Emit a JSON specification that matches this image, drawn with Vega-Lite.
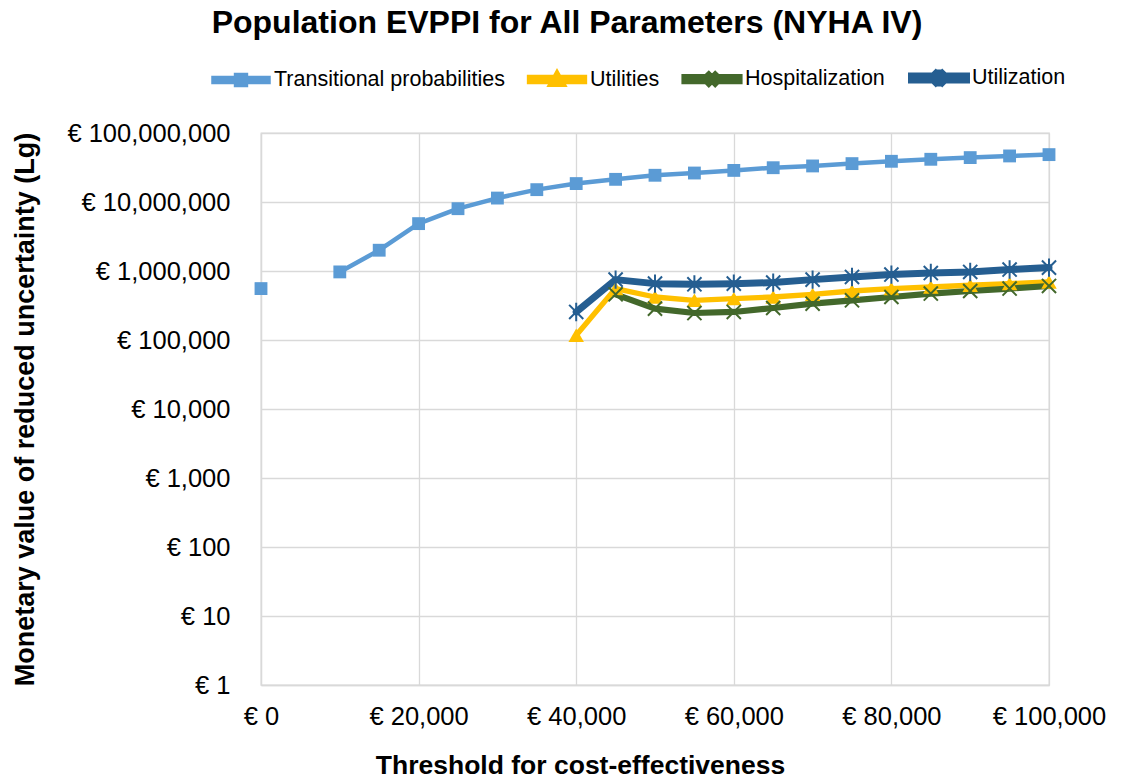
{
  "$schema": "https://vega.github.io/schema/vega-lite/v6.json",
  "autosize": {"type": "none"},
  "width": 788,
  "height": 552,
  "padding": {"left": 261, "top": 133, "right": 73, "bottom": 94},
  "background": "white",
  "title": {
    "text": "Population EVPPI for All Parameters (NYHA IV)",
    "font": "Liberation Sans",
    "fontSize": 32,
    "fontWeight": "bold",
    "color": "#000000",
    "anchor": "middle",
    "dx": -88,
    "offset": 7
  },
  "config": {
    "view": {"stroke": "#d9d9d9", "strokeWidth": 1.3},
    "axis": {
      "gridColor": "#d9d9d9",
      "gridWidth": 1.3,
      "domainColor": "#d9d9d9",
      "domainWidth": 1.3,
      "ticks": false,
      "labelFont": "Liberation Sans",
      "labelColor": "#000000",
      "titleFont": "Liberation Sans",
      "titleColor": "#000000",
      "titleFontWeight": "bold"
    }
  },
  "data": {
    "values": [
      {"x": 0, "s": "Transitional probabilities", "v": 556000},
      {"x": 5000, "s": "Transitional probabilities", "v": null},
      {"x": 10000, "s": "Transitional probabilities", "v": 970000},
      {"x": 15000, "s": "Transitional probabilities", "v": 2000000},
      {"x": 20000, "s": "Transitional probabilities", "v": 4860000},
      {"x": 25000, "s": "Transitional probabilities", "v": 8000000},
      {"x": 30000, "s": "Transitional probabilities", "v": 11400000},
      {"x": 35000, "s": "Transitional probabilities", "v": 15100000},
      {"x": 40000, "s": "Transitional probabilities", "v": 18500000},
      {"x": 45000, "s": "Transitional probabilities", "v": 21300000},
      {"x": 50000, "s": "Transitional probabilities", "v": 24400000},
      {"x": 55000, "s": "Transitional probabilities", "v": 26300000},
      {"x": 60000, "s": "Transitional probabilities", "v": 28700000},
      {"x": 65000, "s": "Transitional probabilities", "v": 31400000},
      {"x": 70000, "s": "Transitional probabilities", "v": 33300000},
      {"x": 75000, "s": "Transitional probabilities", "v": 36000000},
      {"x": 80000, "s": "Transitional probabilities", "v": 38900000},
      {"x": 85000, "s": "Transitional probabilities", "v": 41600000},
      {"x": 90000, "s": "Transitional probabilities", "v": 44000000},
      {"x": 95000, "s": "Transitional probabilities", "v": 46500000},
      {"x": 100000, "s": "Transitional probabilities", "v": 48600000},
      {"x": 40000, "s": "Utilities", "v": 117000},
      {"x": 45000, "s": "Utilities", "v": 556000},
      {"x": 50000, "s": "Utilities", "v": 420000},
      {"x": 55000, "s": "Utilities", "v": 376000},
      {"x": 60000, "s": "Utilities", "v": 398000},
      {"x": 65000, "s": "Utilities", "v": 420000},
      {"x": 70000, "s": "Utilities", "v": 459000},
      {"x": 75000, "s": "Utilities", "v": 513000},
      {"x": 80000, "s": "Utilities", "v": 556000},
      {"x": 85000, "s": "Utilities", "v": 586000},
      {"x": 90000, "s": "Utilities", "v": 621000},
      {"x": 95000, "s": "Utilities", "v": 656000},
      {"x": 100000, "s": "Utilities", "v": 694000},
      {"x": 45000, "s": "Hospitalization", "v": 459000},
      {"x": 50000, "s": "Hospitalization", "v": 285000},
      {"x": 55000, "s": "Hospitalization", "v": 246000},
      {"x": 60000, "s": "Hospitalization", "v": 255000},
      {"x": 65000, "s": "Hospitalization", "v": 291000},
      {"x": 70000, "s": "Hospitalization", "v": 336000},
      {"x": 75000, "s": "Hospitalization", "v": 376000},
      {"x": 80000, "s": "Hospitalization", "v": 420000},
      {"x": 85000, "s": "Hospitalization", "v": 471000},
      {"x": 90000, "s": "Hospitalization", "v": 513000},
      {"x": 95000, "s": "Hospitalization", "v": 556000},
      {"x": 100000, "s": "Hospitalization", "v": 607000},
      {"x": 40000, "s": "Utilization", "v": 255000},
      {"x": 45000, "s": "Utilization", "v": 750000},
      {"x": 50000, "s": "Utilization", "v": 656000},
      {"x": 55000, "s": "Utilization", "v": 641000},
      {"x": 60000, "s": "Utilization", "v": 656000},
      {"x": 65000, "s": "Utilization", "v": 679000},
      {"x": 70000, "s": "Utilization", "v": 750000},
      {"x": 75000, "s": "Utilization", "v": 819000},
      {"x": 80000, "s": "Utilization", "v": 887000},
      {"x": 85000, "s": "Utilization", "v": 935000},
      {"x": 90000, "s": "Utilization", "v": 968000},
      {"x": 95000, "s": "Utilization", "v": 1050000},
      {"x": 100000, "s": "Utilization", "v": 1120000}
    ]
  },
  "encoding": {
    "x": {
      "field": "x",
      "type": "quantitative",
      "scale": {"domain": [0, 100000], "nice": false, "zero": false},
      "axis": {
        "values": [0, 20000, 40000, 60000, 80000, 100000],
        "labelExpr": "'€ ' + format(datum.value, ',')",
        "labelFontSize": 25.5,
        "labelPadding": 19,
        "labelFlush": false,
        "labelOverlap": false,
        "title": "Threshold for cost-effectiveness",
        "titleFontSize": 26.5,
        "titlePadding": 23,
        "titleX": 319,
        "titleAnchor": "middle",
        "titleAlign": "center"
      }
    },
    "y": {
      "field": "v",
      "type": "quantitative",
      "scale": {"type": "log", "domain": [1, 100000000], "nice": false},
      "axis": {
        "values": [1, 10, 100, 1000, 10000, 100000, 1000000, 10000000, 100000000],
        "labelExpr": "'€ ' + format(datum.value, ',')",
        "labelFontSize": 25.5,
        "labelPadding": 31,
        "labelOverlap": false,
        "labelFlush": false,
        "title": "Monetary value of reduced uncertainty (Lg)",
        "titleFontSize": 27,
        "titlePadding": 27
      }
    },
    "color": {
      "field": "s",
      "type": "nominal",
      "scale": {
        "domain": ["Transitional probabilities", "Utilities", "Hospitalization", "Utilization"],
        "range": ["#5B9BD5", "#FFC000", "#43682B", "#255E91"]
      },
      "legend": {
        "title": null,
        "orient": "none",
        "direction": "horizontal",
        "columns": 4,
        "legendX": -51,
        "legendY": -86,
        "padding": 0,
        "labelFont": "Liberation Sans",
        "labelFontSize": 21.5,
        "labelColor": "#000000",
        "labelLimit": 500,
        "labelOffset": 2,
        "columnPadding": 12,
        "symbolSize": 3025,
        "symbolOpacity": 1,
        "symbolStrokeWidth": 0
      }
    }
  },
  "layer": [
    {
      "mark": {"type": "point", "filled": true, "opacity": 0, "size": 1, "invalid": "filter"},
      "encoding": {
        "shape": {
          "field": "s",
          "type": "nominal",
          "scale": {
            "domain": ["Transitional probabilities", "Utilities", "Hospitalization", "Utilization"],
            "range": [
              "M-1,-0.075V0.075H1V-0.075Z M-0.18,-0.18V0.18H0.18V-0.18Z",
              "M-1,-0.075V0.075H1V-0.075Z M0,-0.22L-0.22,0.17H0.22Z",
              "M-1,-0.075V0.075H1V-0.075Z M0.116,0.166L0.166,0.116L-0.116,-0.166L-0.166,-0.116Z M0.166,-0.116L0.116,-0.166L-0.166,0.116L-0.116,0.166Z",
              "M-1,-0.075V0.075H1V-0.075Z M0.116,0.166L0.166,0.116L-0.116,-0.166L-0.166,-0.116Z M0.166,-0.116L0.116,-0.166L-0.166,0.116L-0.116,0.166Z M-0.03,-0.18V0.18H0.03V-0.18Z"
            ]
          }
        }
      }
    },
    {
      "mark": {"type": "line", "invalid": "break-paths-filter-domains", "strokeJoin": "round", "strokeCap": "round"},
      "encoding": {
        "strokeWidth": {
          "field": "s",
          "type": "nominal",
          "scale": {
            "domain": ["Transitional probabilities", "Utilities", "Hospitalization", "Utilization"],
            "range": [4.5, 7, 6.5, 6.5]
          },
          "legend": null
        }
      }
    },
    {
      "transform": [{"filter": "datum.s === 'Transitional probabilities'"}],
      "mark": {"type": "point", "filled": true, "opacity": 1, "shape": "square", "size": 165, "invalid": "filter"}
    },
    {
      "transform": [{"filter": "datum.s === 'Utilities'"}],
      "mark": {"type": "point", "filled": true, "opacity": 1, "shape": "triangle-up", "size": 240, "invalid": "filter"}
    },
    {
      "transform": [{"filter": "datum.s === 'Hospitalization'"}],
      "mark": {"type": "point", "filled": false, "opacity": 1, "shape": "M-1,-1L1,1M-1,1L1,-1", "size": 200, "strokeWidth": 2, "invalid": "filter"}
    },
    {
      "transform": [{"filter": "datum.s === 'Utilization'"}],
      "mark": {"type": "point", "filled": false, "opacity": 1, "shape": "M-1,-1L1,1M-1,1L1,-1M0,-1.3L0,1.3", "size": 200, "strokeWidth": 2, "invalid": "filter"}
    }
  ]
}
